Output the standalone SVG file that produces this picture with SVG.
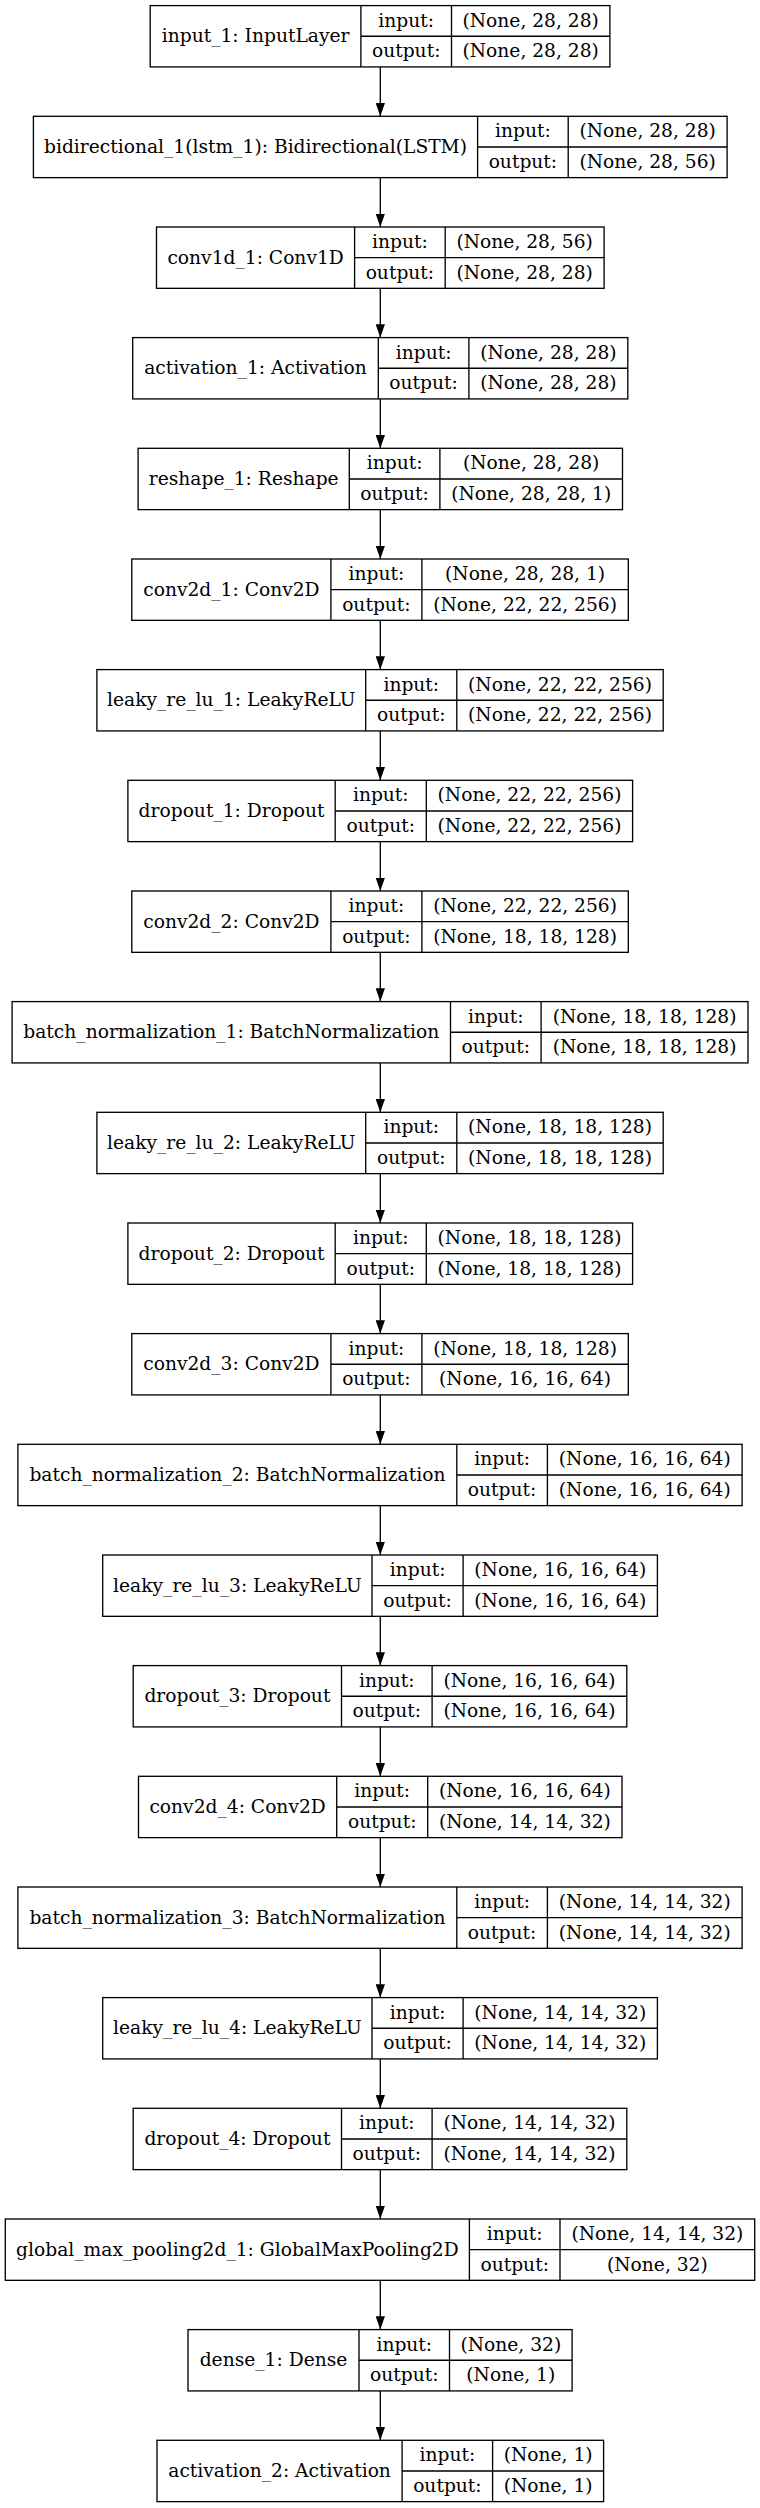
<svg xmlns="http://www.w3.org/2000/svg" width="760" height="2508" viewBox="0 0 760 2508">
<style>
.n rect,.n path{fill:none;stroke:#000;stroke-width:1.33}
.n text{font-family:"DejaVu Serif",serif;font-size:18.67px;text-anchor:middle;fill:#000}
.e line{stroke:#000;stroke-width:1.33;marker-end:url(#ah)}
</style>
<defs>
<marker id="ah" viewBox="0 0 10 7" refX="10" refY="3.5" markerUnits="userSpaceOnUse" markerWidth="13.3" markerHeight="9.3" orient="auto"><path d="M0,0 L10,3.5 L0,7 z" fill="#000"/></marker>
</defs>
<rect width="760" height="2508" fill="#fff"/>
<g class="e">
<line x1="380.3" y1="66.9" x2="380.3" y2="116.3"/>
<line x1="380.3" y1="177.6" x2="380.3" y2="227.0"/>
<line x1="380.3" y1="288.3" x2="380.3" y2="337.6"/>
<line x1="380.3" y1="398.9" x2="380.3" y2="448.3"/>
<line x1="380.3" y1="509.6" x2="380.3" y2="559.0"/>
<line x1="380.3" y1="620.3" x2="380.3" y2="669.6"/>
<line x1="380.3" y1="730.9" x2="380.3" y2="780.3"/>
<line x1="380.3" y1="841.6" x2="380.3" y2="891.0"/>
<line x1="380.3" y1="952.3" x2="380.3" y2="1001.6"/>
<line x1="380.3" y1="1062.9" x2="380.3" y2="1112.3"/>
<line x1="380.3" y1="1173.6" x2="380.3" y2="1223.0"/>
<line x1="380.3" y1="1284.3" x2="380.3" y2="1333.6"/>
<line x1="380.3" y1="1394.9" x2="380.3" y2="1444.3"/>
<line x1="380.3" y1="1505.6" x2="380.3" y2="1555.0"/>
<line x1="380.3" y1="1616.3" x2="380.3" y2="1665.6"/>
<line x1="380.3" y1="1726.9" x2="380.3" y2="1776.3"/>
<line x1="380.3" y1="1837.6" x2="380.3" y2="1887.0"/>
<line x1="380.3" y1="1948.3" x2="380.3" y2="1997.6"/>
<line x1="380.3" y1="2058.9" x2="380.3" y2="2108.3"/>
<line x1="380.3" y1="2169.6" x2="380.3" y2="2219.0"/>
<line x1="380.3" y1="2280.3" x2="380.3" y2="2329.6"/>
<line x1="380.3" y1="2390.9" x2="380.3" y2="2440.3"/>
</g>
<g id="input_1" class="n" transform="translate(0,5.6)">
<rect x="150.2" y="0" width="459.7" height="61.33"/>
<path d="M360.9 0V61.33M451.5 0V61.33M360.9 30.67H609.9"/>
<text x="255.6" y="36.6">input_1: InputLayer</text>
<text x="406.2" y="21.2">input:</text><text x="406.2" y="51.9">output:</text>
<text x="530.7" y="21.2">(None, 28, 28)</text><text x="530.7" y="51.9">(None, 28, 28)</text>
</g>
<g id="bidirectional_1" class="n" transform="translate(0,116.3)">
<rect x="33.4" y="0" width="693.7" height="61.33"/>
<path d="M477.6 0V61.33M568.2 0V61.33M477.6 30.67H727.1"/>
<text x="255.5" y="36.6">bidirectional_1(lstm_1): Bidirectional(LSTM)</text>
<text x="522.9" y="21.2">input:</text><text x="522.9" y="51.9">output:</text>
<text x="647.7" y="21.2">(None, 28, 28)</text><text x="647.7" y="51.9">(None, 28, 56)</text>
</g>
<g id="conv1d_1" class="n" transform="translate(0,227.0)">
<rect x="156.5" y="0" width="447.6" height="61.33"/>
<path d="M354.6 0V61.33M445.2 0V61.33M354.6 30.67H604.1"/>
<text x="255.6" y="36.6">conv1d_1: Conv1D</text>
<text x="399.9" y="21.2">input:</text><text x="399.9" y="51.9">output:</text>
<text x="524.7" y="21.2">(None, 28, 56)</text><text x="524.7" y="51.9">(None, 28, 28)</text>
</g>
<g id="activation_1" class="n" transform="translate(0,337.6)">
<rect x="132.7" y="0" width="495.1" height="61.33"/>
<path d="M378.3 0V61.33M468.9 0V61.33M378.3 30.67H627.8"/>
<text x="255.5" y="36.6">activation_1: Activation</text>
<text x="423.6" y="21.2">input:</text><text x="423.6" y="51.9">output:</text>
<text x="548.4" y="21.2">(None, 28, 28)</text><text x="548.4" y="51.9">(None, 28, 28)</text>
</g>
<g id="reshape_1" class="n" transform="translate(0,448.3)">
<rect x="138.1" y="0" width="484.4" height="61.33"/>
<path d="M349.3 0V61.33M439.9 0V61.33M349.3 30.67H622.5"/>
<text x="243.7" y="36.6">reshape_1: Reshape</text>
<text x="394.6" y="21.2">input:</text><text x="394.6" y="51.9">output:</text>
<text x="531.2" y="21.2">(None, 28, 28)</text><text x="531.2" y="51.9">(None, 28, 28, 1)</text>
</g>
<g id="conv2d_1" class="n" transform="translate(0,559.0)">
<rect x="131.8" y="0" width="496.5" height="61.33"/>
<path d="M330.9 0V61.33M421.9 0V61.33M330.9 30.67H628.3"/>
<text x="231.4" y="36.6">conv2d_1: Conv2D</text>
<text x="376.4" y="21.2">input:</text><text x="376.4" y="51.9">output:</text>
<text x="525.1" y="21.2">(None, 28, 28, 1)</text><text x="525.1" y="51.9">(None, 22, 22, 256)</text>
</g>
<g id="leaky_re_lu_1" class="n" transform="translate(0,669.6)">
<rect x="96.9" y="0" width="566.3" height="61.33"/>
<path d="M365.7 0V61.33M456.8 0V61.33M365.7 30.67H663.2"/>
<text x="231.3" y="36.6">leaky_re_lu_1: LeakyReLU</text>
<text x="411.3" y="21.2">input:</text><text x="411.3" y="51.9">output:</text>
<text x="560.0" y="21.2">(None, 22, 22, 256)</text><text x="560.0" y="51.9">(None, 22, 22, 256)</text>
</g>
<g id="dropout_1" class="n" transform="translate(0,780.3)">
<rect x="127.9" y="0" width="504.7" height="61.33"/>
<path d="M335.2 0V61.33M426.3 0V61.33M335.2 30.67H632.6"/>
<text x="231.6" y="36.6">dropout_1: Dropout</text>
<text x="380.8" y="21.2">input:</text><text x="380.8" y="51.9">output:</text>
<text x="529.5" y="21.2">(None, 22, 22, 256)</text><text x="529.5" y="51.9">(None, 22, 22, 256)</text>
</g>
<g id="conv2d_2" class="n" transform="translate(0,891.0)">
<rect x="131.8" y="0" width="496.5" height="61.33"/>
<path d="M330.9 0V61.33M421.9 0V61.33M330.9 30.67H628.3"/>
<text x="231.4" y="36.6">conv2d_2: Conv2D</text>
<text x="376.4" y="21.2">input:</text><text x="376.4" y="51.9">output:</text>
<text x="525.1" y="21.2">(None, 22, 22, 256)</text><text x="525.1" y="51.9">(None, 18, 18, 128)</text>
</g>
<g id="batch_normalization_1" class="n" transform="translate(0,1001.6)">
<rect x="12.1" y="0" width="735.9" height="61.33"/>
<path d="M450.5 0V61.33M541.1 0V61.33M450.5 30.67H748"/>
<text x="231.3" y="36.6">batch_normalization_1: BatchNormalization</text>
<text x="495.8" y="21.2">input:</text><text x="495.8" y="51.9">output:</text>
<text x="644.6" y="21.2">(None, 18, 18, 128)</text><text x="644.6" y="51.9">(None, 18, 18, 128)</text>
</g>
<g id="leaky_re_lu_2" class="n" transform="translate(0,1112.3)">
<rect x="96.9" y="0" width="566.3" height="61.33"/>
<path d="M365.7 0V61.33M456.8 0V61.33M365.7 30.67H663.2"/>
<text x="231.3" y="36.6">leaky_re_lu_2: LeakyReLU</text>
<text x="411.3" y="21.2">input:</text><text x="411.3" y="51.9">output:</text>
<text x="560.0" y="21.2">(None, 18, 18, 128)</text><text x="560.0" y="51.9">(None, 18, 18, 128)</text>
</g>
<g id="dropout_2" class="n" transform="translate(0,1223.0)">
<rect x="127.9" y="0" width="504.7" height="61.33"/>
<path d="M335.2 0V61.33M426.3 0V61.33M335.2 30.67H632.6"/>
<text x="231.6" y="36.6">dropout_2: Dropout</text>
<text x="380.8" y="21.2">input:</text><text x="380.8" y="51.9">output:</text>
<text x="529.5" y="21.2">(None, 18, 18, 128)</text><text x="529.5" y="51.9">(None, 18, 18, 128)</text>
</g>
<g id="conv2d_3" class="n" transform="translate(0,1333.6)">
<rect x="131.8" y="0" width="496.5" height="61.33"/>
<path d="M330.9 0V61.33M421.9 0V61.33M330.9 30.67H628.3"/>
<text x="231.4" y="36.6">conv2d_3: Conv2D</text>
<text x="376.4" y="21.2">input:</text><text x="376.4" y="51.9">output:</text>
<text x="525.1" y="21.2">(None, 18, 18, 128)</text><text x="525.1" y="51.9">(None, 16, 16, 64)</text>
</g>
<g id="batch_normalization_2" class="n" transform="translate(0,1444.3)">
<rect x="17.9" y="0" width="724.2" height="61.33"/>
<path d="M456.8 0V61.33M547.4 0V61.33M456.8 30.67H742.1"/>
<text x="237.4" y="36.6">batch_normalization_2: BatchNormalization</text>
<text x="502.1" y="21.2">input:</text><text x="502.1" y="51.9">output:</text>
<text x="644.8" y="21.2">(None, 16, 16, 64)</text><text x="644.8" y="51.9">(None, 16, 16, 64)</text>
</g>
<g id="leaky_re_lu_3" class="n" transform="translate(0,1555.0)">
<rect x="102.7" y="0" width="554.7" height="61.33"/>
<path d="M372 0V61.33M463.1 0V61.33M372 30.67H657.4"/>
<text x="237.4" y="36.6">leaky_re_lu_3: LeakyReLU</text>
<text x="417.6" y="21.2">input:</text><text x="417.6" y="51.9">output:</text>
<text x="560.3" y="21.2">(None, 16, 16, 64)</text><text x="560.3" y="51.9">(None, 16, 16, 64)</text>
</g>
<g id="dropout_3" class="n" transform="translate(0,1665.6)">
<rect x="133.2" y="0" width="493.6" height="61.33"/>
<path d="M341.5 0V61.33M432.1 0V61.33M341.5 30.67H626.8"/>
<text x="237.4" y="36.6">dropout_3: Dropout</text>
<text x="386.8" y="21.2">input:</text><text x="386.8" y="51.9">output:</text>
<text x="529.5" y="21.2">(None, 16, 16, 64)</text><text x="529.5" y="51.9">(None, 16, 16, 64)</text>
</g>
<g id="conv2d_4" class="n" transform="translate(0,1776.3)">
<rect x="138.5" y="0" width="483.5" height="61.33"/>
<path d="M336.7 0V61.33M427.7 0V61.33M336.7 30.67H622"/>
<text x="237.6" y="36.6">conv2d_4: Conv2D</text>
<text x="382.2" y="21.2">input:</text><text x="382.2" y="51.9">output:</text>
<text x="524.9" y="21.2">(None, 16, 16, 64)</text><text x="524.9" y="51.9">(None, 14, 14, 32)</text>
</g>
<g id="batch_normalization_3" class="n" transform="translate(0,1887.0)">
<rect x="17.9" y="0" width="724.2" height="61.33"/>
<path d="M456.8 0V61.33M547.4 0V61.33M456.8 30.67H742.1"/>
<text x="237.4" y="36.6">batch_normalization_3: BatchNormalization</text>
<text x="502.1" y="21.2">input:</text><text x="502.1" y="51.9">output:</text>
<text x="644.8" y="21.2">(None, 14, 14, 32)</text><text x="644.8" y="51.9">(None, 14, 14, 32)</text>
</g>
<g id="leaky_re_lu_4" class="n" transform="translate(0,1997.6)">
<rect x="102.7" y="0" width="554.7" height="61.33"/>
<path d="M372 0V61.33M463.1 0V61.33M372 30.67H657.4"/>
<text x="237.4" y="36.6">leaky_re_lu_4: LeakyReLU</text>
<text x="417.6" y="21.2">input:</text><text x="417.6" y="51.9">output:</text>
<text x="560.3" y="21.2">(None, 14, 14, 32)</text><text x="560.3" y="51.9">(None, 14, 14, 32)</text>
</g>
<g id="dropout_4" class="n" transform="translate(0,2108.3)">
<rect x="133.2" y="0" width="493.6" height="61.33"/>
<path d="M341.5 0V61.33M432.1 0V61.33M341.5 30.67H626.8"/>
<text x="237.4" y="36.6">dropout_4: Dropout</text>
<text x="386.8" y="21.2">input:</text><text x="386.8" y="51.9">output:</text>
<text x="529.5" y="21.2">(None, 14, 14, 32)</text><text x="529.5" y="51.9">(None, 14, 14, 32)</text>
</g>
<g id="global_max_pooling2d_1" class="n" transform="translate(0,2219.0)">
<rect x="5.3" y="0" width="749.4" height="61.33"/>
<path d="M469.4 0V61.33M560 0V61.33M469.4 30.67H754.7"/>
<text x="237.4" y="36.6">global_max_pooling2d_1: GlobalMaxPooling2D</text>
<text x="514.7" y="21.2">input:</text><text x="514.7" y="51.9">output:</text>
<text x="657.4" y="21.2">(None, 14, 14, 32)</text><text x="657.4" y="51.9">(None, 32)</text>
</g>
<g id="dense_1" class="n" transform="translate(0,2329.6)">
<rect x="188" y="0" width="384.1" height="61.33"/>
<path d="M359 0V61.33M449.5 0V61.33M359 30.67H572.1"/>
<text x="273.5" y="36.6">dense_1: Dense</text>
<text x="404.3" y="21.2">input:</text><text x="404.3" y="51.9">output:</text>
<text x="510.8" y="21.2">(None, 32)</text><text x="510.8" y="51.9">(None, 1)</text>
</g>
<g id="activation_2" class="n" transform="translate(0,2440.3)">
<rect x="157" y="0" width="446.6" height="61.33"/>
<path d="M402.1 0V61.33M492.6 0V61.33M402.1 30.67H603.6"/>
<text x="279.6" y="36.6">activation_2: Activation</text>
<text x="447.4" y="21.2">input:</text><text x="447.4" y="51.9">output:</text>
<text x="548.1" y="21.2">(None, 1)</text><text x="548.1" y="51.9">(None, 1)</text>
</g>
</svg>
